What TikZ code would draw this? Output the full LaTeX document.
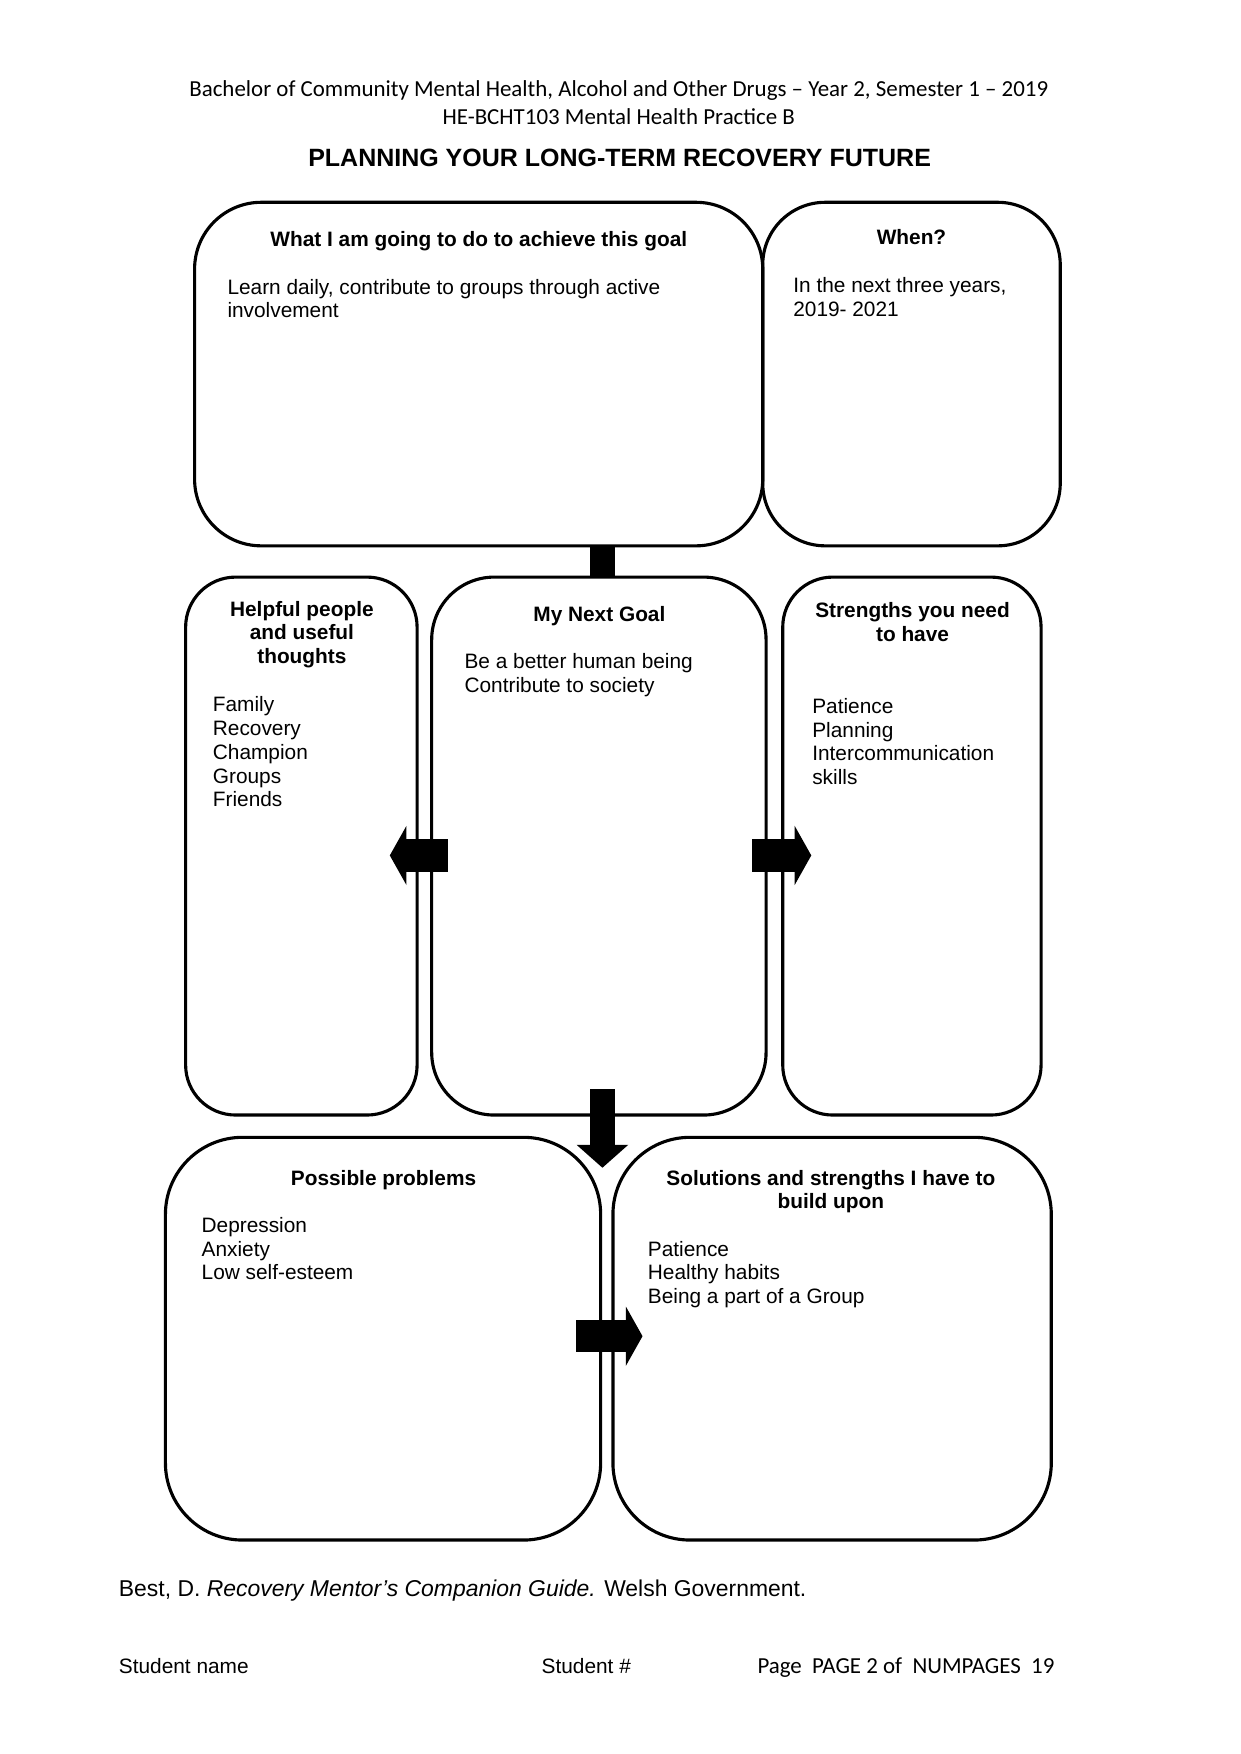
\documentclass[tikz,border=0pt]{standalone}
\usepackage{fontspec}
\setmainfont{Liberation Sans}
\newfontfamily\headfont{Carlito}
\usetikzlibrary{arrows.meta}

\begin{document}
\begin{tikzpicture}[
    x=1pt, y=1pt,
    panel/.style={
        rectangle,
        rounded corners=#1,
        draw=black,
        line width=1.5pt,
        inner sep=0pt,
        outer sep=0pt
    },
    heading/.style={
        font=\fontsize{10}{11.4}\selectfont\bfseries,
        align=center,
        inner sep=0pt
    },
    entry/.style={
        font=\fontsize{10}{11.4}\selectfont,
        align=left,
        anchor=north west,
        inner sep=0pt
    },
    fat/.style={
        line width=15.5pt,
        -{Triangle[length=8pt,width=28.5pt,line width=0pt]}
    },
    drop/.style={
        line width=11.7pt,
        -{Triangle[length=11pt,width=24.8pt,line width=0pt]}
    },
    link/.style={line width=12pt}
]
\useasboundingbox (0,0) rectangle (595.3,-841.9);

% Page header and title
\node[font=\headfont\fontsize{11}{13.4}\selectfont,align=center,inner sep=0pt] (header) at (297,-49.4) {Bachelor of Community Mental Health, Alcohol and Other Drugs – Year 2, Semester 1 – 2019\\HE-BCHT103 Mental Health Practice B};
\node[font=\fontsize{12}{14}\selectfont\bfseries,inner sep=0pt] (title) at (297.4,-75.9) {PLANNING YOUR LONG-TERM RECOVERY FUTURE};

% Top row
\node[panel=32pt,minimum width=272.7pt,minimum height=164.9pt] (action) at (229.75,-179.55) {};
\node[panel=30pt,minimum width=142.8pt,minimum height=164.9pt] (when) at (437.5,-179.55) {};

% Middle row
\node[panel=24pt,minimum width=111.1pt,minimum height=258.2pt] (helpful) at (144.65,-406.1) {};
\node[panel=30pt,minimum width=160.5pt,minimum height=258.2pt] (goal) at (287.45,-406.1) {};
\node[panel=24pt,minimum width=124pt,minimum height=258.2pt] (strengths) at (437.7,-406.1) {};

% Bottom row
\node[panel=37pt,minimum width=208.9pt,minimum height=193.3pt] (problems) at (183.85,-642.55) {};
\node[panel=37pt,minimum width=210.4pt,minimum height=193.3pt] (solutions) at (399.4,-642.55) {};

% Headings
\node[heading] (actionhead) at (229.8,-115.9) {What I am going to do to achieve this goal};
\node[heading] (whenhead) at (437.5,-113.8) {When?};
\node[heading] (helpfulhead) at (144.9,-304.6) {Helpful people\\and useful\\thoughts};
\node[heading] (goalhead) at (287.7,-295.7) {My Next Goal};
\node[heading] (strengthshead) at (438,-298.4) {Strengths you need\\to have};
\node[heading] (problemshead) at (184.1,-566.2) {Possible problems};
\node[heading] (solutionshead) at (398.8,-571.9) {Solutions and strengths I have to\\build upon};

% Entries
\node[entry] (actiontext) at (109,-133.7) {Learn daily, contribute to groups through active\\involvement};
\node[entry] (whentext) at (380.6,-132.9) {In the next three years,\\2019- 2021};
\node[entry] (helpfultext) at (102,-334.3) {Family\\Recovery\\Champion\\Groups\\Friends};
\node[entry] (goaltext) at (222.8,-313.5) {Be a better human being\\Contribute to society};
\node[entry] (strengthstext) at (389.7,-335) {Patience\\Planning\\Intercommunication\\skills};
\node[entry] (problemstext) at (96.6,-584.1) {Depression\\Anxiety\\Low self-esteem};
\node[entry] (solutionstext) at (310.8,-595.5) {Patience\\Healthy habits\\Being a part of a Group};

% Connectors
\draw[link] ([xshift=1.5pt]action.south -| goal.north) -- ([xshift=1.5pt]goal.north);
\draw[fat] ([xshift=7.7pt,yshift=-4.5pt]goal.west) -- ([xshift=-13.1pt,yshift=-4.5pt]helpful.east);
\draw[fat] ([xshift=-6.6pt,yshift=-4.5pt]goal.east) -- ([xshift=13.7pt,yshift=-4.5pt]strengths.west);
\draw[drop] ([xshift=1.7pt,yshift=12.3pt]goal.south) -- ([xshift=1.7pt,yshift=-14.6pt]goal.south |- problems.north);
\draw[fat] ([xshift=-11.7pt,yshift=1.2pt]problems.east) -- ([xshift=14.2pt,yshift=1.2pt]solutions.west);

% Source and footer
\node[font=\fontsize{11}{13}\selectfont,anchor=west,inner sep=0pt] (source) at (56.9,-763.4) {Best, D. {\itshape Recovery Mentor’s Companion Guide.} Welsh Government.};
\node[font=\fontsize{10}{12}\selectfont,anchor=west,inner sep=0pt] (student) at (56.9,-799.8) {Student name};
\node[font=\fontsize{10}{12}\selectfont,anchor=west,inner sep=0pt] (number) at (259.8,-799.8) {Student \#};
\node[font=\headfont\fontsize{11}{13}\selectfont,anchor=west,inner sep=0pt] (page) at (363.4,-800.5) {Page\ \ PAGE 2 of\ \ NUMPAGES\ \ 19};

\end{tikzpicture}
\end{document}
